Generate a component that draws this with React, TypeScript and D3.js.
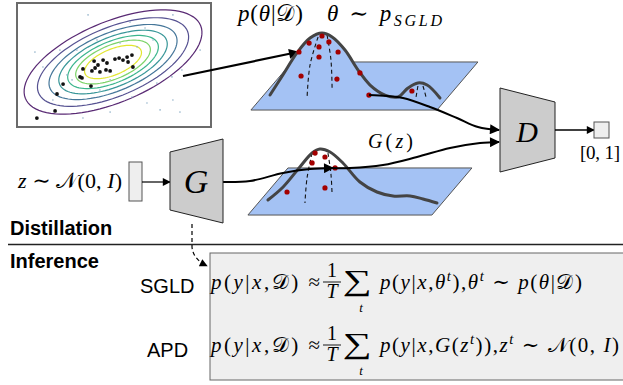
import React from 'react';
import * as d3 from 'd3';

type Pt = [number, number];

// posterior contour panel, in parameter units
const contourLevels = [1, 0.85, 0.72, 0.61, 0.51, 0.42, 0.32];
const contourShades = [0.05, 0.18, 0.33, 0.48, 0.62, 0.78, 0.95];
const posteriorMean: Pt = [-0.04, 0.12];
const posteriorAxes = { a: 3.9, b: 1.63, angle: 22 };

const sgldSamples: Pt[] = [
  [-3.18, -2.14], [-2.43, -1.85], [-2.35, -1.17], [-2.1, -0.77], [-0.95, -0.85],
  [-1.4, -0.48], [-1.32, -0.52], [-1.28, -0.16], [-0.82, 0.16], [-0.66, 0.0],
  [-0.45, 0.2], [-0.29, 0.08], [-0.33, -0.2], [-0.16, -0.24], [-0.58, -0.28],
  [-0.91, -0.24], [-0.78, -0.12], [0.04, 0.24], [0.21, 0.28], [0.37, 0.2],
  [0.58, 0.12], [0.54, 0.32], [0.74, 0.4], [0.78, -0.08],
];

const backgroundPoints: Pt[] = [
  [-1.07, 2.02], [2.43, 2.02], [-3.26, 0.52], [-2.23, 0.6], [1.28, 1.49],
  [1.61, 1.01], [2.8, -0.2], [1.77, -0.73], [2.39, -0.48], [-0.58, -1.01],
  [-1.73, -0.6], [0.74, -1.29], [1.36, -1.53], [1.9, -1.81], [2.72, -1.9],
  [-2.93, -0.08], [-1.94, -0.4], [-0.16, -0.6], [0.25, 0.89], [0.95, 0.73],
  [-1.53, 0.6], [-0.7, 1.01], [2.43, -1.41], [3.55, 0.6], [-2.52, -1.41],
  [-0.16, -1.9], [0.66, 1.73], [-1.28, -2.14],
];

// density surfaces, in percent of their panel
const posteriorPlane: Pt[] = [[0.4, 2.4], [81.3, 2.4], [99.1, 61], [18.3, 61]];
const posteriorRidge: Pt[] = [
  [8.7, 20.7], [14.3, 45.1], [20.4, 72.0], [26.1, 90.2], [31.3, 96.3], [35.7, 91.5],
  [41.3, 75.6], [47.0, 51.2], [52.2, 32.9], [58.7, 20.7], [64.3, 18.3], [68.7, 29.3],
  [73.0, 35.4], [77.0, 32.9], [82.6, 17.1],
];
const posteriorDashes: Pt[][] = [
  [[29.6, 91.5], [26.1, 57.3], [24.8, 17.1]],
  [[33.5, 93.9], [35.2, 63.4], [35.7, 26.8]],
  [[73.0, 31.7], [72.6, 25], [72.2, 18.3]],
  [[75.2, 31.7], [75.9, 25], [76.5, 18.3]],
];
const posteriorDots: Pt[] = [
  [31.3, 92.7], [25.7, 84.1], [34.3, 85.4], [30.0, 79.3], [38.3, 73.2], [21.3, 73.2],
  [30.0, 67.1], [47.8, 47.6], [22.2, 43.9], [37.8, 40.2], [70.4, 25.6], [51.7, 20.7],
];

const generatorPlane: Pt[] = [[0.4, 2.4], [80.4, 2.4], [97.8, 59.8], [17.8, 59.8]];
const generatorRidge: Pt[] = [
  [9.1, 20.7], [15.7, 36.6], [23.0, 61.0], [28.3, 78.0], [31.7, 82.9], [36.1, 79.3],
  [41.7, 65.9], [49.1, 42.7], [56.5, 30.5], [63.5, 25.6], [70.9, 25.6], [76.5, 22.0],
  [82.6, 17.1],
];
const generatorDashes: Pt[][] = [
  [[28.3, 78.0], [26.1, 47.6], [25.2, 17.1]],
  [[35.2, 78.0], [36.5, 52.4], [37.0, 26.8]],
];
const generatorDots: Pt[] = [
  [29.6, 78.0], [33.9, 73.2], [28.3, 65.9], [38.3, 59.8], [17.4, 30.5], [33.9, 35.4],
];

// connector routes (page layout)
const sampleArrow: Pt[] = [[183, 76], [298, 52]];
const posteriorToDisc: Pt[] = [[369, 95], [387, 96], [403, 98], [430, 107], [457, 118], [478, 127], [499, 130]];
const genOutA: Pt[] = [[223, 182], [250, 181], [283, 173], [310, 169], [333, 168]];
const genOutB: Pt[] = [[330, 168], [350, 168], [383, 165], [417, 157], [450, 148], [480, 143], [499, 142]];

const PLANE = '#a4c2f4';
const RED = '#a30000';
const SERIF = '"Liberation Serif", "DejaVu Serif", serif';
const SANS = '"Liberation Sans", Arial, sans-serif';

const ITALIC = /[A-Za-zθ]/;

function MathText({ x, y, size, src, width, anchor }: {
  x: number; y: number; size: number; src: string; width?: number; anchor?: string;
}) {
  const chars = Array.from(src);
  const parts: { text: string; italic: boolean; shift: number; small: boolean }[] = [];
  let i = 0;
  while (i < chars.length) {
    const c = chars[i];
    if (c === '^' || c === '_') {
      let grp: string[] = [];
      if (chars[i + 1] === '{') {
        let j = i + 2;
        while (chars[j] !== '}') grp.push(chars[j++]);
        i = j + 1;
      } else {
        grp = [chars[i + 1]];
        i += 2;
      }
      const t = grp.join('');
      parts.push({ text: t, italic: ITALIC.test(t), shift: c === '^' ? -0.38 : 0.22, small: true });
    } else {
      parts.push({ text: c, italic: ITALIC.test(c), shift: 0, small: false });
      i++;
    }
  }
  const merged: typeof parts = [];
  parts.forEach(p => {
    const last = merged[merged.length - 1];
    if (last && last.italic === p.italic && last.shift === p.shift && last.small === p.small) last.text += p.text;
    else merged.push({ ...p });
  });
  let cur = 0;
  return (
    <text x={x} y={y} fontSize={size} fontFamily={SERIF} textAnchor={anchor}
      textLength={width} lengthAdjust={width ? 'spacing' : undefined} style={{ whiteSpace: 'pre' }}>
      {merged.map((s, k) => {
        const off = s.shift * size;
        const dy = off - cur;
        cur = off;
        return (
          <tspan key={k} dy={dy || undefined} fontStyle={s.italic ? 'italic' : 'normal'}
            fontSize={s.small ? size * 0.7 : undefined}>{s.text}</tspan>
        );
      })}
    </text>
  );
}

function Formula({ y, rhs, rhsWidth }: { y: number; rhs: string; rhsWidth: number }) {
  return (
    <g>
      <MathText x={211} y={y} size={21} src="p(y|x,𝒟) ≈" width={109} />
      <text x={332} y={y - 12} fontSize={20} fontFamily={SERIF} textAnchor="middle">1</text>
      <line x1={323} x2={341} y1={y - 7} y2={y - 7} stroke="#000" strokeWidth={0.9} />
      <text x={332} y={y + 9} fontSize={20} fontFamily={SERIF} fontStyle="italic" textAnchor="middle">T</text>
      <text transform={`translate(343,${y + 1}) scale(1.4,1)`} fontSize={29} fontFamily={SERIF}>∑</text>
      <text x={361} y={y + 23} fontSize={13} fontFamily={SERIF} fontStyle="italic" textAnchor="middle">t</text>
      <MathText x={380} y={y} size={21} src={rhs} width={rhsWidth} />
    </g>
  );
}

export default function App() {
  const cx = d3.scaleLinear().domain([-4, 4]).range([17, 211]);
  const cy = d3.scaleLinear().domain([-2.5, 2.5]).range([127, 3]);
  const phi = (posteriorAxes.angle * Math.PI) / 180;
  const ellipse = d3.line<Pt>().x(d => cx(d[0])).y(d => cy(d[1])).curve(d3.curveLinearClosed);
  const ring = (s: number): Pt[] =>
    d3.range(0, 360, 4).map(deg => {
      const t = (deg * Math.PI) / 180;
      const u = s * posteriorAxes.a * Math.cos(t);
      const v = s * posteriorAxes.b * Math.sin(t);
      return [posteriorMean[0] + u * Math.cos(phi) - v * Math.sin(phi),
        posteriorMean[1] + u * Math.sin(phi) + v * Math.cos(phi)];
    });

  const p1x = d3.scaleLinear().domain([0, 100]).range([250, 480]);
  const p1y = d3.scaleLinear().domain([0, 100]).range([112, 30]);
  const p2x = d3.scaleLinear().domain([0, 100]).range([247, 477]);
  const p2y = d3.scaleLinear().domain([0, 100]).range([217, 135]);

  const smooth1 = d3.line<Pt>().x(d => p1x(d[0])).y(d => p1y(d[1])).curve(d3.curveCatmullRom);
  const smooth2 = d3.line<Pt>().x(d => p2x(d[0])).y(d => p2y(d[1])).curve(d3.curveCatmullRom);
  const poly1 = d3.line<Pt>().x(d => p1x(d[0])).y(d => p1y(d[1])).curve(d3.curveLinearClosed);
  const poly2 = d3.line<Pt>().x(d => p2x(d[0])).y(d => p2y(d[1])).curve(d3.curveLinearClosed);
  const route = d3.line<Pt>().curve(d3.curveCatmullRom);

  // body of the posterior hill, filled down onto the plane
  const hillArea = d3.area<Pt>()
    .x(d => p1x(d[0]))
    .y0(p1y(10))
    .y1(d => p1y(d[1]))
    .curve(d3.curveCatmullRom);

  return (
    <svg width={623} height={385} viewBox="0 0 623 385"
      style={{ position: 'absolute', left: 0, top: 0, background: '#fff' }}>
      <defs>
        <marker id="ahBig" viewBox="0 0 10 10" refX="9" refY="5" markerWidth="14" markerHeight="10"
          markerUnits="userSpaceOnUse" orient="auto">
          <path d="M0,0L10,5L0,10z" fill="#000" />
        </marker>
        <marker id="ahSmall" viewBox="0 0 10 10" refX="9" refY="5" markerWidth="10" markerHeight="8"
          markerUnits="userSpaceOnUse" orient="auto">
          <path d="M0,0L10,5L0,10z" fill="#000" />
        </marker>
      </defs>

      {/* posterior contours with SGLD samples */}
      <rect x={17} y={3} width={194} height={124} fill="#fff" stroke="#6b6b6b" strokeWidth={2} />
      {contourLevels.map((s, k) => (
        <path key={k} d={ellipse(ring(s)) || ''} fill="none" strokeOpacity={0.9}
          stroke={d3.interpolateViridis(contourShades[k])} strokeWidth={1.2} />
      ))}
      {backgroundPoints.map((d, k) => (
        <circle key={k} cx={cx(d[0])} cy={cy(d[1])} r={0.8} fill="#8fb0c8" />
      ))}
      {sgldSamples.map((d, k) => (
        <circle key={k} cx={cx(d[0])} cy={cy(d[1])} r={1.9} fill="#111" />
      ))}
      <path d={route(sampleArrow) || ''} stroke="#000" strokeWidth={2.2} fill="none" markerEnd="url(#ahBig)" />

      {/* posterior surface */}
      <path d={poly1(posteriorPlane) || ''} fill={PLANE} stroke="#555" strokeWidth={1} />
      <path d={hillArea(posteriorRidge) || ''} fill={PLANE} stroke="none" />
      {posteriorDashes.map((d, k) => (
        <path key={k} d={smooth1(d) || ''} fill="none" stroke="#111" strokeWidth={1.1} strokeDasharray="4,3" />
      ))}
      <path d={smooth1(posteriorRidge) || ''} fill="none" stroke="#444" strokeWidth={3} strokeLinecap="round" />
      {posteriorDots.map((d, k) => (
        <circle key={k} cx={p1x(d[0])} cy={p1y(d[1])} r={2.6} fill={RED} />
      ))}
      <path d={route(posteriorToDisc) || ''} stroke="#000" strokeWidth={2} fill="none" markerEnd="url(#ahBig)" />

      {/* generator surface */}
      <path d={poly2(generatorPlane) || ''} fill={PLANE} stroke="#555" strokeWidth={1} />
      {generatorDashes.map((d, k) => (
        <path key={k} d={smooth2(d) || ''} fill="none" stroke="#111" strokeWidth={1.1} strokeDasharray="4,3" />
      ))}
      <path d={smooth2(generatorRidge) || ''} fill="none" stroke="#444" strokeWidth={3} strokeLinecap="round" />
      {generatorDots.map((d, k) => (
        <circle key={k} cx={p2x(d[0])} cy={p2y(d[1])} r={2.6} fill={RED} />
      ))}
      <path d={route(genOutA) || ''} stroke="#000" strokeWidth={2} fill="none" markerEnd="url(#ahBig)" />
      <path d={route(genOutB) || ''} stroke="#000" strokeWidth={2} fill="none" markerEnd="url(#ahBig)" />

      {/* generator input */}
      <rect x={129} y={162} width={13} height={39} fill="#eee" stroke="#555" strokeWidth={1} />
      <line x1={142} y1={182} x2={170} y2={182} stroke="#000" strokeWidth={1.2} markerEnd="url(#ahSmall)" />
      <path d="M170,152L223,139L223,223L170,210Z" fill="#ccc" stroke="#222" strokeWidth={1} />
      <text x={196} y={193} fontSize={34} fontFamily={SERIF} fontStyle="italic" textAnchor="middle">G</text>

      {/* discriminator */}
      <path d="M500,88L555,102L555,158L500,172Z" fill="#ccc" stroke="#222" strokeWidth={1} />
      <text x={527} y={142} fontSize={30} fontFamily={SERIF} fontStyle="italic" textAnchor="middle">D</text>
      <line x1={555} y1={130} x2={594} y2={130} stroke="#000" strokeWidth={1.4} markerEnd="url(#ahSmall)" />
      <rect x={594} y={122} width={15} height={16} fill="#eee" stroke="#555" strokeWidth={1} />

      {/* labels */}
      <MathText x={238} y={21} size={23} src="p(θ|𝒟)" width={65} />
      <MathText x={327} y={21} size={23} src="θ ∼ p_{SGLD}" width={115} />
      <MathText x={368} y={148} size={20} src="G(z)" width={45} />
      <MathText x={18} y={188} size={22} src="z ∼ 𝒩(0, I)" width={104} />
      <MathText x={580} y={159} size={19} src="[0, 1]" width={40} />

      {/* distillation / inference split */}
      <text x={10} y={235} fontSize={20} fontWeight="bold" fontFamily={SANS}>Distillation</text>
      <line x1={8} x2={623} y1={244.5} y2={244.5} stroke="#222" strokeWidth={1.5} />
      <text x={10} y={268} fontSize={20} fontWeight="bold" fontFamily={SANS}>Inference</text>
      <path d="M192,224L192,247Q193,259 207,266" fill="none" stroke="#000" strokeWidth={1.2}
        strokeDasharray="4,3" markerEnd="url(#ahSmall)" />

      <rect x={210} y={253} width={414} height={127} fill="#efefef" stroke="#666" strokeWidth={1} />
      <text x={140} y={293} fontSize={20} fontFamily={SANS}>SGLD</text>
      <text x={147} y={357} fontSize={20} fontFamily={SANS}>APD</text>
      <Formula y={289} rhs="p(y|x,θ^t),θ^t ∼ p(θ|𝒟)" rhsWidth={202} />
      <Formula y={352} rhs="p(y|x,G(z^t)),z^t ∼ 𝒩(0, I)" rhsWidth={239} />
    </svg>
  );
}
